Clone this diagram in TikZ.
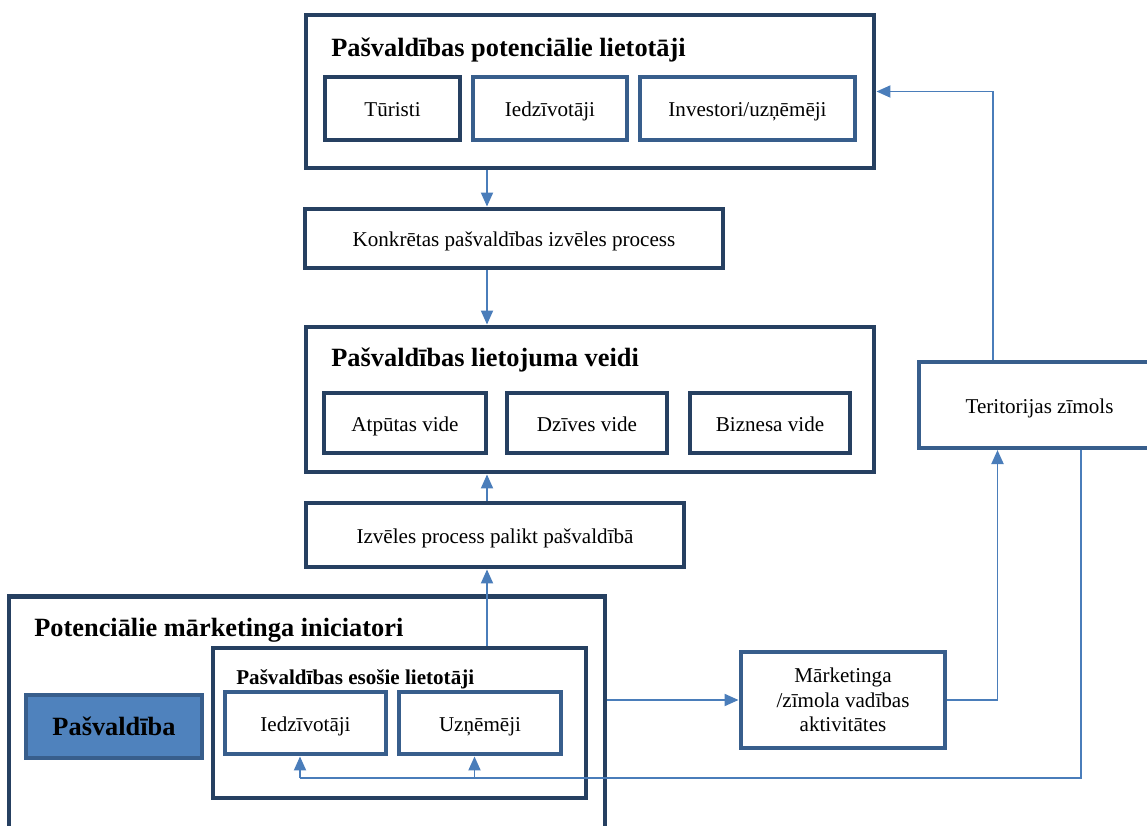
\documentclass[tikz,border=0pt]{standalone}
\usepackage{fontspec}
\setmainfont{Liberation Serif}
\usetikzlibrary{arrows.meta}
\definecolor{mnavy}{rgb}{0.15, 0.25, 0.38}
\definecolor{mblue}{rgb}{0.22, 0.37, 0.55}
\definecolor{mline}{rgb}{0.29, 0.49, 0.73}
\definecolor{mfill}{rgb}{0.31, 0.51, 0.74}
\tikzset{box/.style = {draw = mnavy, line width = 2.8pt, inner sep = 0}}
\tikzset{subbox/.style = {draw = mblue, line width = 2.8pt, inner sep = 0}}
\tikzset{oneline/.style = {text height = 11pt, text depth = 1.5pt}}
\tikzset{head/.style = {anchor = west, inner sep = 0, font = \bfseries\fontsize{15}{18}\selectfont}}
\tikzset{conn/.style = {draw = mline, line width = 1.1pt, -{Triangle[length = 0.28cm, width = 0.24cm]}}}
\tikzset{wire/.style = {draw = mline, line width = 1.1pt}}

\begin{document}
\begin{tikzpicture}[font = \fontsize{12}{14}\selectfont]
    \useasboundingbox (0, 0) rectangle (22.94, 16.5);

    \node [box, minimum width = 11.36cm, minimum height = 3.06cm] (users) at (11.8, 14.67) {};
    \node [head] (usershead) at (6.62, 15.5) {Pašvaldības potenciālie lietotāji};
    \node [box, oneline, minimum width = 2.7cm, minimum height = 1.26cm] (tourists) at (7.85, 14.33) {Tūristi};
    \node [subbox, oneline, minimum width = 3.08cm, minimum height = 1.26cm] (residents) at (11.0, 14.33) {Iedzīvotāji};
    \node [subbox, oneline, minimum width = 4.3cm, minimum height = 1.26cm] (investors) at (14.95, 14.33) {Investori/uzņēmēji};

    \node [box, oneline, minimum width = 8.36cm, minimum height = 1.18cm] (choice) at (10.28, 11.73) {Konkrētas pašvaldības izvēles process};

    \node [box, minimum width = 11.36cm, minimum height = 2.9cm] (usage) at (11.8, 8.51) {};
    \node [head] (usagehead) at (6.62, 9.3) {Pašvaldības lietojuma veidi};
    \node [box, oneline, minimum width = 3.24cm, minimum height = 1.2cm] (leisure) at (8.1, 8.04) {Atpūtas vide};
    \node [box, oneline, minimum width = 3.2cm, minimum height = 1.2cm] (living) at (11.74, 8.04) {Dzīves vide};
    \node [box, oneline, minimum width = 3.2cm, minimum height = 1.2cm] (business) at (15.4, 8.04) {Biznesa vide};

    \node [box, oneline, minimum width = 7.56cm, minimum height = 1.28cm] (stay) at (9.9, 5.8) {Izvēles process palikt pašvaldībā};

    \node [box, minimum width = 11.92cm, minimum height = 5.07cm] (initiators) at (6.14, 2.03) {};
    \node [head] (inithead) at (0.68, 3.9) {Potenciālie mārketinga iniciatori};
    \node [subbox, fill = mfill, minimum width = 3.52cm, minimum height = 1.26cm,
      font = \bfseries\fontsize{15}{18}\selectfont] (municipality) at (2.28, 1.97) {Pašvaldība};
    \node [box, minimum width = 7.46cm, minimum height = 3.0cm] (current) at (7.99, 2.04) {};
    \node [head, font = \bfseries\fontsize{12}{14}\selectfont] (currenthead) at (4.72, 2.92) {Pašvaldības esošie lietotāji};
    \node [subbox, oneline, minimum width = 3.22cm, minimum height = 1.24cm] (locals) at (6.11, 2.04) {Iedzīvotāji};
    \node [subbox, oneline, minimum width = 3.24cm, minimum height = 1.24cm] (firms) at (9.6, 2.04) {Uzņēmēji};

    \node [subbox, minimum width = 4.08cm, minimum height = 1.92cm, align = center] (marketing) at (16.86, 2.5)
      {Mārketinga\\/zīmola vadības\\aktivitātes};
    \node [subbox, oneline, line width = 2.3pt, minimum width = 4.82cm, minimum height = 1.72cm] (brand) at (20.79, 8.4) {Teritorijas zīmols};

    \coordinate (spine) at (9.74, 0);
    \coordinate (rise) at (19.95, 0);
    \coordinate (back) at (19.86, 0);
    \coordinate (fb) at (21.62, 0.94);
    \coordinate (fbl) at (6.0, 0.94);
    \coordinate (fbm) at (9.49, 0.94);

    \draw [conn] (users.south -| spine) -- (choice.north -| spine);
    \draw [conn] (choice.south -| spine) -- (usage.north -| spine);
    \draw [conn] (stay.north -| spine) -- (usage.south -| spine);
    \draw [conn] (current.north -| spine) -- (stay.south -| spine);
    \draw [conn] (marketing.west -| initiators.east) -- (marketing.west);
    \draw [conn] (marketing.east) -| (brand.south -| rise);
    \draw [conn] (brand.north -| back) |- (users.east);

    \draw [wire] (brand.south -| fb) -- (fb) -- (fbl);
    \draw [conn] (fbl) -- (locals.south -| fbl);
    \draw [conn] (fbm) -- (firms.south -| fbm);
\end{tikzpicture}
\end{document}
